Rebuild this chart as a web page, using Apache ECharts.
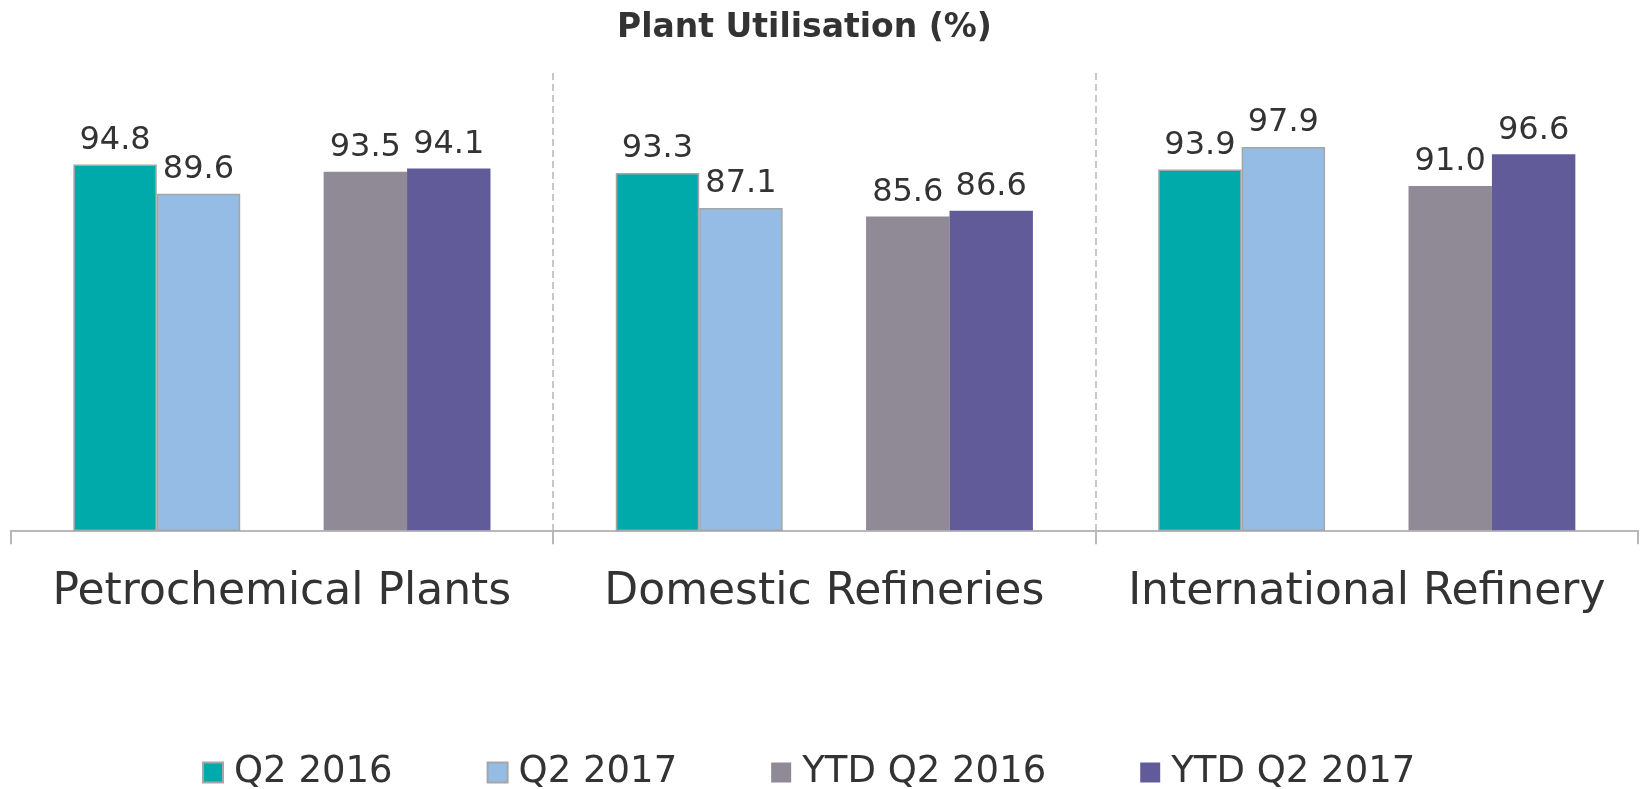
<!DOCTYPE html>
<html>
<head>
<meta charset="utf-8">
<script src="https://cdn.jsdelivr.net/npm/echarts@6/dist/echarts.min.js"></script>
<style>
  html, body { margin: 0; padding: 0; background: #ffffff; }
  #chart { width: 1646px; height: 789px; }
</style>
</head>
<body>
<div id="chart"></div>
<script>
const categories = ['Petrochemical Plants', 'Domestic Refineries', 'International Refinery'];
const seriesNames = ['Q2 2016', 'Q2 2017', 'YTD Q2 2016', 'YTD Q2 2017'];
const q2_2016 = [94.8, 93.3, 93.9];
const q2_2017 = [89.6, 87.1, 97.9];
const ytd_q2_2016 = [93.5, 85.6, 91.0];
const ytd_q2_2017 = [94.1, 86.6, 96.6];
const titleText = 'Plant Utilisation (%)';

const FONT = 'DejaVu Sans';
const TEXT = '#333333';

function barSeries(name, data, color, bordered) {
  return {
    name: name,
    type: 'bar',
    data: data,
    barGap: 0,
    barCategoryGap: '23.1%',
    itemStyle: {
      color: color,
      borderColor: bordered ? '#a6a6a6' : color,
      borderWidth: bordered ? 1.5 : 0
    },
    label: {
      show: true,
      position: 'top',
      distance: 8,
      fontFamily: FONT,
      fontSize: 32,
      color: TEXT,
      formatter: p => Number(p.value).toFixed(1)
    },
    emphasis: { disabled: true },
    animation: false
  };
}

const chart = echarts.init(document.getElementById('chart'), null, { renderer: 'canvas' });
chart.setOption({
  backgroundColor: '#ffffff',
  animation: false,
  title: {
    text: titleText,
    left: 617,
    top: 12,
    padding: 0,
    textStyle: { fontFamily: FONT, fontWeight: 'bold', fontSize: 33, color: TEXT }
  },
  legend: {
    data: seriesNames,
    left: 197,
    top: 749,
    itemWidth: 20,
    itemHeight: 20,
    itemGap: 94,
    icon: 'rect',
    textStyle: { fontFamily: FONT, fontSize: 37, color: TEXT, padding: [0, 0, 0, 6] }
  },
  grid: { left: 10.7, right: 8, top: 73, bottom: 258.7, containLabel: false },
  xAxis: {
    type: 'category',
    data: categories,
    axisLine: { show: true, lineStyle: { color: '#b8b8b8', width: 2 } },
    axisTick: { show: true, length: 14, lineStyle: { color: '#b8b8b8', width: 2 } },
    axisLabel: { fontFamily: FONT, fontSize: 44, color: TEXT, margin: 40, interval: 0 },
    splitLine: {
      show: true,
      showMinLine: false,
      showMaxLine: false,
      interval: 0,
      lineStyle: { color: '#c8c8c8', width: 2, type: [7, 4] }
    }
  },
  yAxis: {
    type: 'value',
    min: 30,
    max: 111,
    show: false,
    splitLine: { show: false }
  },
  series: [
    barSeries(seriesNames[0], q2_2016, '#00aaaa', true),
    barSeries(seriesNames[1], q2_2017, '#94bce4', true),
    { name: 'spacer', type: 'bar', data: categories.map(() => '-'), barGap: 0, barCategoryGap: '23.1%', silent: true },
    barSeries(seriesNames[2], ytd_q2_2016, '#8f8a96', false),
    barSeries(seriesNames[3], ytd_q2_2017, '#625b99', false)
  ]
});
</script>
</body>
</html>
